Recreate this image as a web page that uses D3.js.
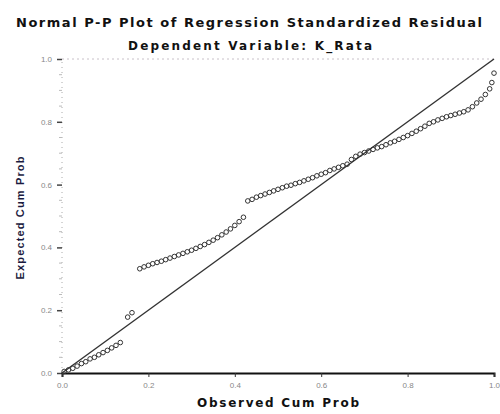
<!DOCTYPE html>
<html>
<head>
<meta charset="utf-8">
<script src="https://cdn.jsdelivr.net/npm/d3@7/dist/d3.min.js"></script>
<style>
  html, body { margin: 0; padding: 0; background: #fff; }
  svg { display: block; font-family: "Liberation Sans", Arial, sans-serif; }
</style>
</head>
<body>
<svg id="chart" width="500" height="414"></svg>
<script>
// ---- data ----
const title = "Normal P-P Plot of Regression Standardized Residual";
const subtitle = "Dependent Variable: K_Rata";
const xLabel = "Observed Cum Prob";
const yLabel = "Expected Cum Prob";
const tickValues = [0.0, 0.2, 0.4, 0.6, 0.8, 1.0];
const tickLabels = ["0.0", "0.2", "0.4", "0.6", "0.8", "1.0"];

const observed = [
  0.005, 0.015, 0.025, 0.035, 0.045, 0.055, 0.065, 0.075, 0.085, 0.095, 0.105, 0.115, 0.125, 0.135,
  0.152, 0.162,
  0.180, 0.190, 0.200, 0.210, 0.220, 0.230, 0.240, 0.250, 0.260, 0.270, 0.280, 0.290, 0.300,
  0.310, 0.320, 0.330, 0.340, 0.350, 0.360, 0.370, 0.380, 0.390, 0.400, 0.410, 0.420,
  0.430, 0.440, 0.450, 0.460, 0.470, 0.480, 0.490, 0.500, 0.510, 0.520, 0.530, 0.540,
  0.550, 0.560, 0.570, 0.580, 0.590, 0.600, 0.610, 0.620, 0.630, 0.640, 0.650, 0.660,
  0.670, 0.680, 0.690, 0.700, 0.710, 0.720, 0.730, 0.740, 0.750, 0.760, 0.770, 0.780,
  0.790, 0.800, 0.810, 0.820, 0.830, 0.840, 0.850, 0.860, 0.870, 0.880, 0.890, 0.900,
  0.910, 0.920, 0.930, 0.940, 0.950, 0.960, 0.970, 0.980, 0.990, 0.995, 1.000
];
const expected = [
  0.005, 0.010, 0.015, 0.022, 0.030, 0.036, 0.045, 0.050, 0.058, 0.065, 0.072, 0.080, 0.088, 0.097,
  0.178, 0.192,
  0.332, 0.338, 0.343, 0.348, 0.352, 0.356, 0.361, 0.366, 0.371, 0.376, 0.381, 0.386, 0.391,
  0.397, 0.403, 0.409, 0.416, 0.423, 0.431, 0.440, 0.449, 0.459, 0.470, 0.482, 0.496,
  0.548, 0.553, 0.560, 0.565, 0.570, 0.575, 0.580, 0.585, 0.590, 0.595, 0.598, 0.603,
  0.607, 0.612, 0.617, 0.622, 0.628, 0.633, 0.638, 0.645, 0.650, 0.655, 0.660, 0.665,
  0.680, 0.690, 0.697, 0.702, 0.707, 0.712, 0.717, 0.721, 0.727, 0.733, 0.738, 0.744,
  0.750, 0.756, 0.763, 0.770, 0.778, 0.786, 0.795, 0.800, 0.806, 0.811, 0.816, 0.820,
  0.824, 0.828, 0.832, 0.838, 0.848, 0.860, 0.872, 0.887, 0.905, 0.925, 0.955
];
const refLine = [[0, 0], [1, 1]];

// ---- drawing ----
const svg = d3.select("#chart");
const x = d3.scaleLinear().domain([0, 1]).range([62, 494]);
const y = d3.scaleLinear().domain([0, 1]).range([373, 59]);
const heavy = "'DejaVu Sans', Verdana, sans-serif";

// titles
svg.append("text").attr("x", 249).attr("y", 27).attr("text-anchor", "middle")
  .attr("font-family", heavy).attr("font-size", 13).attr("font-weight", "bold").attr("fill", "#111")
  .attr("textLength", 466).attr("lengthAdjust", "spacing").text(title);
svg.append("text").attr("x", 250).attr("y", 50).attr("text-anchor", "middle")
  .attr("font-family", heavy).attr("font-size", 12).attr("font-weight", "bold").attr("fill", "#111")
  .attr("textLength", 244).attr("lengthAdjust", "spacing").text(subtitle);

// top dotted frame line
svg.append("line").attr("x1", x(0)).attr("x2", x(1)).attr("y1", y(1)).attr("y2", y(1))
  .attr("stroke", "#c8c0c8").attr("stroke-width", 1).attr("stroke-dasharray", "2,3");

// left axis (dotted) with ticks
svg.append("line").attr("x1", x(0)).attr("x2", x(0)).attr("y1", y(0)).attr("y2", y(1))
  .attr("stroke", "#aaa").attr("stroke-width", 1).attr("stroke-dasharray", "1,4");
const yAxis = d3.axisLeft(y).tickValues(tickValues).tickFormat((d, i) => tickLabels[i])
  .tickSize(5).tickPadding(5);
const gy = svg.append("g").attr("transform", `translate(${x(0)},0)`).call(yAxis);
gy.select(".domain").remove();
gy.selectAll(".tick line").attr("stroke", "#444").attr("stroke-width", 1.5);
gy.selectAll(".tick text").attr("fill", "#888").attr("font-size", 8).attr("font-family", "Liberation Sans, Arial, sans-serif");
// minor ticks
const minor = d3.range(0, 21).map(i => i * 0.05).filter(v => Math.round(v * 100) % 20 !== 0);
svg.append("g").selectAll("line").data(minor).join("line")
  .attr("x1", x(0) - 3).attr("x2", x(0)).attr("y1", d => y(d)).attr("y2", d => y(d))
  .attr("stroke", "#bbb").attr("stroke-width", 1);

// bottom axis
const xAxis = d3.axisBottom(x).tickValues(tickValues).tickFormat((d, i) => tickLabels[i])
  .tickSize(4).tickPadding(5);
const gx = svg.append("g").attr("transform", `translate(0,${y(0)})`).call(xAxis);
gx.select(".domain").attr("stroke", "#111").attr("stroke-width", 2);
gx.selectAll(".tick line").attr("stroke", "#333");
gx.selectAll(".tick text").attr("fill", "#888").attr("font-size", 8).attr("font-family", "Liberation Sans, Arial, sans-serif");

// reference diagonal
svg.append("line")
  .attr("x1", x(refLine[0][0])).attr("y1", y(refLine[0][1]))
  .attr("x2", x(refLine[1][0])).attr("y2", y(refLine[1][1]))
  .attr("stroke", "#333").attr("stroke-width", 1.4);

// points
svg.append("g").selectAll("circle").data(observed).join("circle")
  .attr("cx", d => x(d)).attr("cy", (d, i) => y(expected[i])).attr("r", 2.3)
  .attr("fill", "none").attr("stroke", "#333").attr("stroke-width", 1);

// axis labels
svg.append("text").attr("x", 278).attr("y", 407).attr("text-anchor", "middle")
  .attr("font-family", heavy).attr("font-size", 12).attr("font-weight", "bold").attr("fill", "#111")
  .attr("textLength", 162).attr("lengthAdjust", "spacing").text(xLabel);
svg.append("text").attr("transform", "translate(24,218) rotate(-90)").attr("text-anchor", "middle")
  .attr("font-size", 11).attr("font-weight", "bold").attr("fill", "#1a1a40")
  .attr("textLength", 123).attr("lengthAdjust", "spacing").text(yLabel);
</script>
</body>
</html>
